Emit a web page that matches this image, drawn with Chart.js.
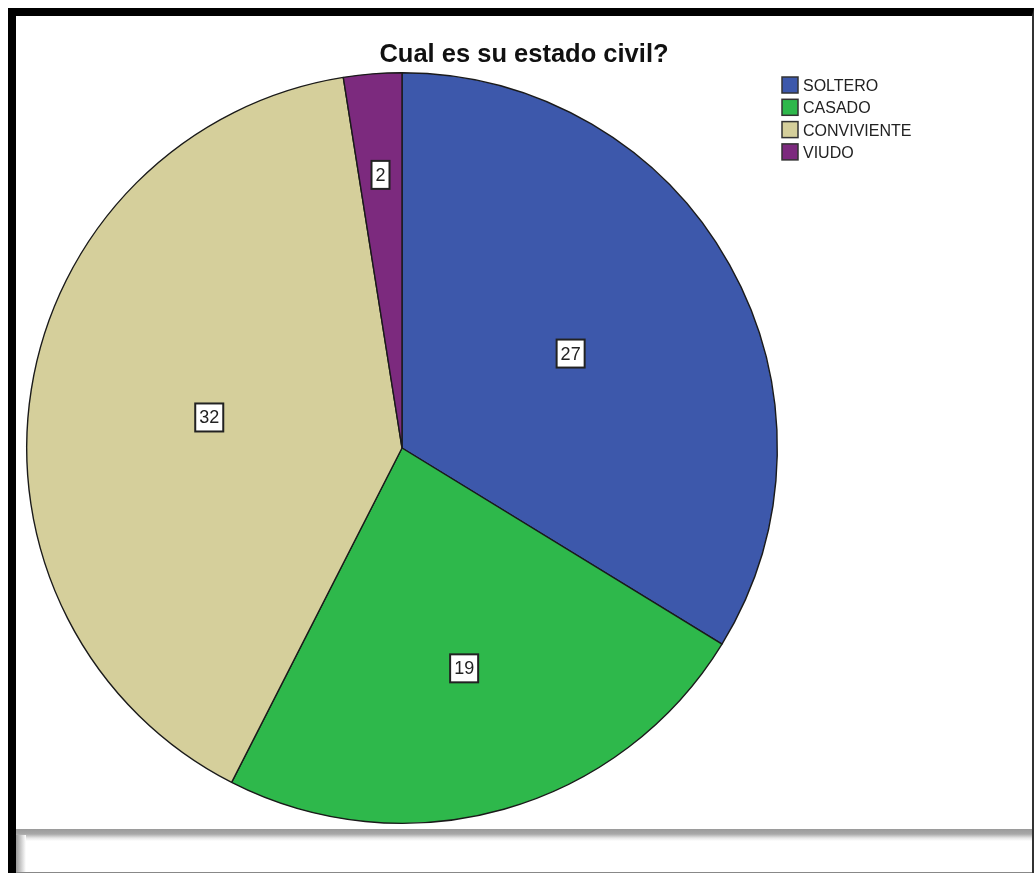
<!DOCTYPE html>
<html>
<head>
<meta charset="utf-8">
<script src="https://cdn.jsdelivr.net/npm/chart.js@4.4.1/dist/chart.umd.min.js"></script>
<style>
  html, body { margin:0; padding:0; background:#fff; width:1034px; height:873px; overflow:hidden; }
  #frame { position:absolute; left:8px; top:8px; width:1016px; height:865px; border-left:8px solid #000; border-top:8px solid #000; border-right:2px solid #333; }
  #wrap { position:absolute; left:16px; top:16px; width:1016px; height:812px; }
  #footer { position:absolute; left:16px; top:829px; width:1016px; height:43px; border-bottom:1px solid #888;
            background:linear-gradient(to bottom, #9a9a9a 0px, #a8a8a8 5px, #e6e6e6 9px, #fff 12px); }
  #footer:before { content:""; position:absolute; left:0; top:6px; width:10px; height:37px; background:linear-gradient(to right, #999, #fff); }
</style>
</head>
<body>
<div id="frame"></div>
<div id="wrap"><canvas id="pie"></canvas></div>
<div id="footer"></div>
<script>
const title = "Cual es su estado civil?";
const categories = ["SOLTERO", "CASADO", "CONVIVIENTE", "VIUDO"];
const counts = [27, 19, 32, 2];
const colors = ["#3d58ab", "#2eb84b", "#d5cf9b", "#7c2a7e"];
// how far out (share of radius) each value box sits
const labelRadius = [0.515, 0.61, 0.52, 0.73];

const titlePlugin = {
  id: 'titleText',
  afterDraw(chart){
    const c = chart.ctx;
    c.save();
    c.fillStyle = '#111';
    c.font = 'bold 25.5px "Liberation Sans", Arial, sans-serif';
    c.textAlign = 'center';
    c.textBaseline = 'middle';
    c.fillText(title, chart.width/2, 38.5);
    c.restore();
  }
};

const legendPlugin = {
  id: 'sideLegend',
  afterDraw(chart){
    const c = chart.ctx;
    const ds = chart.data.datasets[0];
    c.save();
    c.font = '16px "Liberation Sans", Arial, sans-serif';
    c.textBaseline = 'middle';
    chart.data.labels.forEach((lab, i) => {
      const y = 69 + i*22.3;
      c.fillStyle = ds.backgroundColor[i];
      c.fillRect(766, y-8, 16, 16);
      c.strokeStyle = '#333';
      c.lineWidth = 1.5;
      c.strokeRect(766, y-8, 16, 16);
      c.fillStyle = '#222';
      c.fillText(lab, 787, y+1.5);
    });
    c.restore();
  }
};

const valuePlugin = {
  id: 'valueBoxes',
  afterDatasetsDraw(chart){
    const c = chart.ctx;
    const meta = chart.getDatasetMeta(0);
    const vals = chart.data.datasets[0].data;
    c.save();
    c.font = '18px "Liberation Sans", Arial, sans-serif';
    c.textAlign = 'center';
    c.textBaseline = 'middle';
    meta.data.forEach((arc, i) => {
      const p = arc.getProps(['x','y','startAngle','endAngle','outerRadius'], true);
      const mid = (p.startAngle + p.endAngle)/2;
      const r = p.outerRadius * labelRadius[i];
      const x = p.x + Math.cos(mid)*r;
      const y = p.y + Math.sin(mid)*r;
      const txt = String(vals[i]);
      const w = c.measureText(txt).width + 8;
      const h = 28;
      c.fillStyle = '#fff';
      c.fillRect(x-w/2, y-h/2, w, h);
      c.strokeStyle = '#222';
      c.lineWidth = 2;
      c.strokeRect(x-w/2, y-h/2, w, h);
      c.fillStyle = '#222';
      c.fillText(txt, x, y+1);
    });
    c.restore();
  }
};

new Chart(document.getElementById('pie'), {
  type: 'pie',
  data: {
    labels: categories,
    datasets: [{ data: counts, backgroundColor: colors, borderColor: '#1a1a1a', borderWidth: 1.4 }]
  },
  options: {
    responsive: true,
    maintainAspectRatio: false,
    animation: false,
    layout: { padding: { left: 10, top: 56, right: 254, bottom: 4 } },
    plugins: { legend: { display: false }, title: { display: false }, tooltip: { enabled: false } }
  },
  plugins: [valuePlugin, titlePlugin, legendPlugin]
});
</script>
</body>
</html>
